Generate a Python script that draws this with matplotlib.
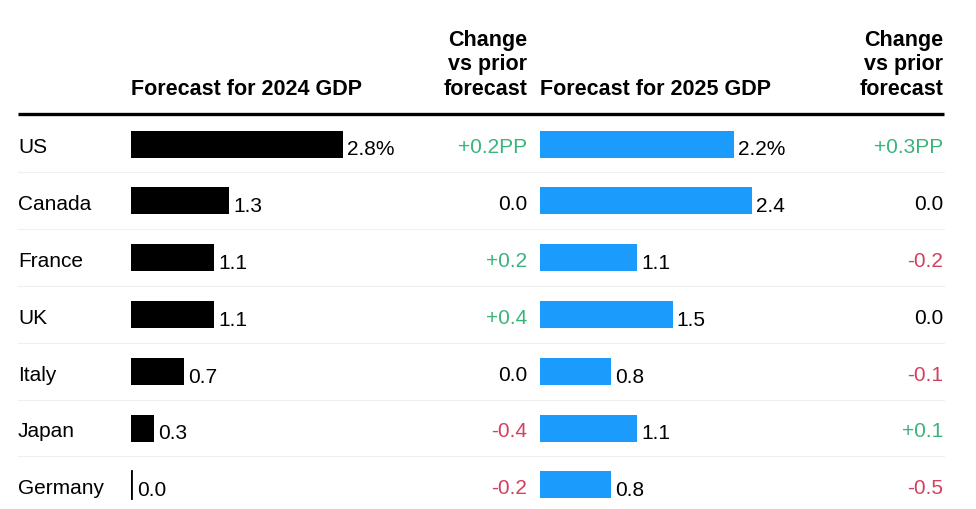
import matplotlib
matplotlib.use('agg')
import matplotlib.pyplot as plt

countries = ['US', 'Canada', 'France', 'UK', 'Italy', 'Japan', 'Germany']
gdp2024 = [2.8, 1.3, 1.1, 1.1, 0.7, 0.3, 0.0]
gdp2025 = [2.2, 2.4, 1.1, 1.5, 0.8, 1.1, 0.8]
chg2024 = ['+0.2PP', '0.0', '+0.2', '+0.4', '0.0', '-0.4', '-0.2']
chg2025 = ['+0.3PP', '0.0', '-0.2', '0.0', '-0.1', '+0.1', '-0.5']

W, H = 976, 510
fsize = 15
font = ['Liberation Sans', 'DejaVu Sans']
plt.rcParams['font.family'] = font

GREEN = '#3bb47c'
RED = '#d43f5f'
BLUE = '#1b9bfb'

row0 = 145
rowstep = 56.8
rows = [row0 + i * rowstep for i in range(len(countries))]


def chg_color(s):
    if s.startswith('+'):
        return GREEN
    if s.startswith('-'):
        return RED
    return 'black'


fig = plt.figure(figsize=[W / 100, H / 100], dpi=100)
ax = fig.add_axes([0, 0, 1, 1])
ax.set_xlim(0, W)
ax.set_ylim(H, 0)
ax.axis('off')

# header
ax.text(131, 95, 'Forecast for 2024 GDP', fontsize=15.5, fontweight='bold',
        ha='left', va='baseline')
ax.text(540, 95, 'Forecast for 2025 GDP', fontsize=15.5, fontweight='bold',
        ha='left', va='baseline')
for xr in [527, 943]:
    for txt, yb in zip(['Change', 'vs prior', 'forecast'], [46, 70, 95]):
        ax.text(xr, yb, txt, fontsize=15.5, fontweight='bold',
                ha='right', va='baseline')

ax.plot([18, 944], [115, 115], color='black', linewidth=2.4,
        solid_capstyle='butt')
for y in rows[:-1]:
    ax.plot([18, 944], [y + rowstep / 2, y + rowstep / 2],
            color='#efefef', linewidth=0.8)

for y, c, c1, c2 in zip(rows, countries, chg2024, chg2025):
    ax.text(18, y + 3, c, fontsize=fsize, ha='left', va='center')
    ax.text(527, y + 3, c1, fontsize=fsize, ha='right', va='center',
            color=chg_color(c1))
    ax.text(943, y + 3, c2, fontsize=fsize, ha='right', va='center',
            color=chg_color(c2))


def bar_panel(x0, vals, color):
    wpx = 300
    bx = fig.add_axes([x0 / W, 0, wpx / W, 1])
    bx.set_ylim(H, 0)
    bx.set_xlim(0, wpx * max(vals) / 212)
    bx.axis('off')
    bx.barh(rows, vals, height=27, color=color, linewidth=0)
    for i, (y, v) in enumerate(zip(rows, vals)):
        lab = f'{v:.1f}%' if i == 0 else f'{v:.1f}'
        off = 4
        if v == 0:
            bx.plot([0, 0], [y - 13.5, y + 13.5], color=color, linewidth=2)
            off = 6
        bx.annotate(lab, (v, y + 5), xytext=(off, 0),
                    textcoords='offset pixels', fontsize=fsize,
                    ha='left', va='center')


bar_panel(131, gdp2024, 'black')
bar_panel(540, gdp2025, BLUE)

plt.savefig('out.png', format='png', dpi=100)
